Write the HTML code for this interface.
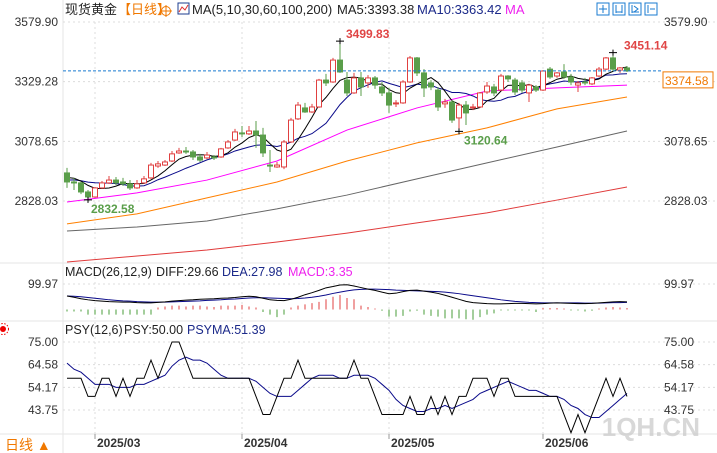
<!DOCTYPE html>
<html><head><meta charset="utf-8">
<style>
body{margin:0;background:#fff;width:717px;height:453px;overflow:hidden;font-family:"Liberation Sans","Noto Sans CJK SC",sans-serif;}
svg{position:absolute;left:0;top:0}
text{font-family:"Liberation Sans","Noto Sans CJK SC",sans-serif}
</style></head><body>
<svg id="chart" width="717" height="453" viewBox="0 0 717 453">
 <g stroke="#e6e6e6" fill="none">
  <line x1="63" y1="0" x2="63" y2="453"/>
  <line x1="0" y1="263" x2="717" y2="263"/>
  <line x1="0" y1="321" x2="717" y2="321"/>
  <line x1="0" y1="434" x2="717" y2="434"/>
 </g>
 <g id="grid" stroke="#dcdcdc" stroke-dasharray="2,3" fill="none"></g>
 <g id="main"></g>
 <g id="macd"></g>
 <g id="psy"></g>
 <g font-size="13">
  <text x="65" y="14" fill="#222">现货黄金</text>
  <text x="118" y="14" fill="#f07800">【日线】</text>
  <circle cx="166" cy="11" r="4.5" fill="none" stroke="#f07800"/>
  <line x1="160" y1="11" x2="172" y2="11" stroke="#f07800"/><line x1="166" y1="5" x2="166" y2="17" stroke="#f07800"/>
  <rect x="178" y="3" width="11" height="11" fill="#fff" stroke="#1c3d8f"/>
  <polyline points="179,12 182,7 185,10 188,5" fill="none" stroke="#e03030"/>
  <text x="192" y="14" fill="#222">MA(5,10,30,60,100,200)</text>
  <text x="337" y="14" fill="#222">MA5:3393.38</text>
  <text x="417" y="14" fill="#1c2a8a">MA10:3363.42</text>
  <text x="505" y="14" fill="#ee22ee">MA</text>
 </g>
 <g fill="#fff" stroke="#1a7bd0">
  <rect x="597" y="3" width="12" height="12"/>
  <rect x="613" y="3" width="12" height="12"/>
  <rect x="629" y="3" width="12" height="12"/>
  <rect x="645" y="3" width="12" height="12"/>
  <path d="M603 5v8M599 9h8M616 5v8M622 5v8M616 12h6M632 5v8M632 12h7M634 6l4 3-4 3M648 5v8M650 9h5" stroke="#1a7bd0"/>
 </g>
 <g font-size="12.5">
  <text x="65" y="276" fill="#222">MACD(26,12,9)</text>
  <text x="156" y="276" fill="#222">DIFF:29.66</text>
  <text x="222" y="276" fill="#1c2a8a">DEA:27.98</text>
  <text x="288" y="276" fill="#ee22ee">MACD:3.35</text>
 </g>
 <g font-size="12.5">
  <text x="65" y="334" fill="#222">PSY(12,6)</text>
  <text x="124" y="334" fill="#222">PSY:50.00</text>
  <text x="187" y="334" fill="#1c2a8a">PSYMA:51.39</text>
 </g>
 <g><circle cx="3" cy="329" r="3" fill="#e00"/><circle cx="3" cy="329" r="5.5" fill="none" stroke="#e00" stroke-dasharray="1.5,1.5"/></g>
 <g><text x="5" y="450" font-size="14" fill="#f07800">日线 ▲</text></g>
 <text x="700" y="436" font-size="26" fill="#c8c8c8" opacity="0.7" text-anchor="end" font-weight="bold">1QH.CN</text>
</svg>
<script>
// ---- data ----
const opens =  [2946,2908,2904,2866,2845,2883,2904,2916,2908,2900,2883,2904,2925,2975,2979,2996,3030,3038,3034,3013,3009,3013,3013,3051,3084,3114,3110,3122,3105,2979,2971,2971,3076,3173,3219,3202,3223,3336,3328,3420,3336,3282,3345,3324,3345,3307,3282,3236,3240,3328,3429,3366,3324,3294,3236,3244,3177,3231,3219,3223,3286,3307,3294,3353,3336,3324,3282,3307,3294,3382,3353,3370,3349,3315,3328,3320,3353,3382,3429,3378,3387];
const closes = [2908,2904,2866,2845,2883,2904,2916,2904,2900,2883,2900,2921,2979,2984,2992,3026,3038,3034,3013,3000,3021,3009,3047,3076,3118,3110,3122,3105,3030,2975,2979,3076,3168,3231,3202,3223,3336,3324,3420,3370,3282,3345,3307,3345,3315,3282,3231,3240,3328,3429,3366,3303,3307,3223,3244,3168,3231,3198,3223,3282,3311,3282,3353,3341,3286,3294,3315,3294,3374,3349,3366,3349,3328,3324,3324,3345,3382,3429,3382,3387,3374.58];
const highs =  [2967,2925,2908,2874,2887,2912,2933,2929,2925,2916,2916,2933,2988,2996,3000,3038,3051,3055,3042,3026,3034,3021,3051,3084,3131,3143,3143,3164,3135,3042,2992,3084,3177,3244,3240,3236,3341,3362,3429,3499.83,3370,3366,3370,3357,3353,3328,3303,3252,3336,3437,3433,3382,3336,3307,3257,3252,3240,3248,3236,3286,3328,3320,3362,3357,3345,3336,3320,3315,3378,3391,3370,3403,3362,3332,3345,3349,3391,3433,3451.14,3391,3395];
const lows =   [2883,2874,2857,2832.58,2841,2879,2900,2895,2891,2874,2879,2900,2921,2967,2975,2992,3026,3026,3000,2992,3004,3000,3009,3047,3080,3097,3105,3051,3013,2950,2967,2962,3072,3168,3198,3198,3219,3311,3324,3366,3269,3278,3269,3303,3299,3269,3198,3223,3236,3324,3353,3265,3294,3206,3219,3156,3120.64,3147,3210,3219,3278,3269,3290,3328,3273,3282,3244,3286,3290,3341,3345,3341,3315,3286,3315,3315,3349,3378,3374,3366,3370];
const priorCloses = [2895,2900,2905,2910,2915,2920,2925,2935,2945];
const ma30Pts = [2824,2862,2916,2996,3126,3219,3290,3303,3315];
const ma60Pts = [2732,2774,2841,2908,2996,3072,3135,3215,3265];
const ma100Pts = [2702,2719,2744,2795,2853,2921,2988,3055,3122];
const ma200Pts = [2572,2597,2622,2656,2693,2736,2778,2832,2887];
const priceTicks = ["3579.90","3329.28","3078.65","2828.03"];
const diff = [53,48,42,38,35,33,31,30,29,29,27,26,26,28,30,33,35,37,38,40,41,42,44,45,47,50,52,50,44,38,36,35,40,48,58,66,75,85,90,96,97,92,86,80,75,68,62,64,70,75,76,72,68,63,56,48,40,32,27,25,23,22,22,23,24,24,23,22,23,25,26,25,24,23,23,24,26,28,30,31,30];
const dea = [53,52,50,47,44,41,38,36,34,33,31,30,29,29,29,30,31,32,33,34,36,37,38,40,41,43,45,46,46,45,44,43,42,43,45,48,52,57,63,68,73,77,79,80,80,79,78,76,75,74,73,72,71,70,68,65,62,58,54,50,46,42,38,35,32,30,28,27,26,26,26,26,26,26,25,25,25,26,27,27,28];
const hist = [-8,-8,-8,-20,-20,-20,-20,-20,-20,-20,-20,-20,-20,8,12,15,15,12,15,15,12,10,15,15,15,18,12,8,-10,-20,-30,-20,8,15,20,25,30,40,50,57,45,40,15,10,4,-5,-28,-28,-25,-8,-5,-20,-25,-28,-35,-35,-35,-38,-40,-30,-20,-15,-4,-4,-4,-4,-4,-10,6,6,6,4,-4,-4,-8,-5,4,8,10,8,6];
const psy = [58.33,58.33,58.33,50,50,58.33,58.33,50,58.33,50,58.33,58.33,66.67,58.33,66.67,75,75,66.67,58.33,58.33,58.33,58.33,58.33,58.33,58.33,58.33,58.33,50,41.67,41.67,50,58.33,58.33,66.67,58.33,58.33,58.33,58.33,58.33,58.33,58.33,66.67,58.33,58.33,50,41.67,41.67,41.67,41.67,50,41.67,41.67,50,41.67,50,41.67,50,50,58.33,58.33,58.33,50,58.33,58.33,50,50,50,50,50,50,50,41.67,33.33,41.67,33.33,41.67,50,58.33,50,58.33,50];
const psyPrior = [75,66.67,66.67,66.67,58.33];
const psyTicks = ["75.00","64.58","54.17","43.75"];
const dateLabels = ["2025/03","2025/04","2025/05","2025/06"];
const dateBars = [4,25,46,68];

// ---- axes ----
const NS="http://www.w3.org/2000/svg";
const xAt = i => 67 + i*7;
const yP = p => 22 + (3579.9 - p)*179/751.87;
const yM = v => 309.5 - v*0.255;
const yS = v => 342 + (75 - v)*2.176;
function mk(tag, attrs, parent){const e=document.createElementNS(NS,tag);for(const k in attrs)e.setAttribute(k,attrs[k]);parent.appendChild(e);return e;}
const grid=document.getElementById('grid'),main=document.getElementById('main'),mac=document.getElementById('macd'),ps=document.getElementById('psy'),svg=document.getElementById('chart');

priceTicks.forEach((t,k)=>{const y=yP(parseFloat(t));
 let g=mk('line',{x1:63,x2:717,y1:y,y2:y},grid);
 
 
 let a=mk('text',{x:58,y:y+4,'font-size':12,fill:'#333','text-anchor':'end'},svg);a.textContent=t;
 
 
 if(k!==1){
 let b=mk('text',{x:664,y:y+4,'font-size':12,fill:'#333'},svg);b.textContent=t;
 
 
 }
});
[99.97].forEach(v=>{const y=yM(v);mk('line',{x1:63,x2:717,y1:y,y2:y},grid);
 let a=mk('text',{x:58,y:y+4,'font-size':12,fill:'#333','text-anchor':'end'},svg);a.textContent=v.toFixed(2);
 
 
 let b=mk('text',{x:664,y:y+4,'font-size':12,fill:'#333'},svg);b.textContent=v.toFixed(2);
 
 
});
psyTicks.forEach(t=>{const y=yS(parseFloat(t));mk('line',{x1:63,x2:717,y1:y,y2:y},grid);
 let a=mk('text',{x:58,y:y+4,'font-size':12,fill:'#333','text-anchor':'end'},svg);a.textContent=t;
 
 
 let b=mk('text',{x:664,y:y+4,'font-size':12,fill:'#333'},svg);b.textContent=t;
 
 
});
dateBars.forEach((bi,k)=>{const x=xAt(bi);
 let g=mk('line',{x1:x,x2:x,y1:22,y2:434},grid);
 
 
 mk('line',{x1:x,x2:x,y1:434,y2:439,stroke:'#999'},svg);
 let t=mk('text',{x:x+2,y:447,'font-size':12,'font-weight':'bold',fill:'#333'},svg);t.textContent=dateLabels[k];
 
 
});

function maLine(arr,color,name){const pts=arr.map((v,k)=>xAt(k*10)+','+yP(v)).join(' ');
 const l=mk('polyline',{points:pts,fill:'none',stroke:color,'stroke-width':1},main);
 
 }
maLine(ma200Pts,'#e03a3a','ma200-line');
maLine(ma100Pts,'#666','ma100-line');
maLine(ma60Pts,'#ff8000','ma60-line');
maLine(ma30Pts,'#ff00ff','ma30-line');
const all=priorCloses.concat(closes);
function ma(n){return closes.map((c,i)=>{let s=0;for(let k=0;k<n;k++)s+=all[i+9-k];return s/n;});}
[[ma(10),'#0a0a8a','ma10-line'],[ma(5),'#000','ma5-line']].forEach(([arr,col,name])=>{
 const l=mk('polyline',{points:arr.map((v,i)=>xAt(i)+','+yP(v)).join(' '),fill:'none',stroke:col},main);
 
 });

closes.forEach((c,i)=>{const o=opens[i],up=c>=o,col=up?'#e04040':'#5a9e4a',x=xAt(i);
 const g=mk('g',{},main);
 
 
 const top=yP(Math.max(o,c)),bot=yP(Math.min(o,c));
 mk('line',{x1:x,x2:x,y1:yP(highs[i]),y2:top,stroke:col},g);
 mk('line',{x1:x,x2:x,y1:bot,y2:yP(lows[i]),stroke:col},g);
 mk('rect',{x:x-2.5,y:top,width:5,height:Math.max(1,bot-top),fill:up?'#fff':col,stroke:col},g);
});
const lp=closes[closes.length-1],ly=yP(lp);
const dl=mk('line',{x1:63,x2:663,y1:ly,y2:ly,stroke:'#1a7bd0','stroke-dasharray':'3,2'},main);


const lb=mk('rect',{x:663,y:ly+1,width:50,height:16,fill:'#fff',stroke:'#f07800'},main);


const lt=mk('text',{x:665,y:ly+14,'font-size':12,fill:'#f07800'},main);lt.textContent=lp.toFixed(2);


function mark(i,v,label,dx,dy,col){const x=xAt(i),y=yP(v);
 mk('path',{d:`M${x-4} ${y}h8M${x} ${y-3}v6`,stroke:'#000'},main);
 const t=mk('text',{x:x+dx,y:y+dy,'font-size':12,'font-weight':'bold',fill:col},main);t.textContent=label;
 
 }
mark(39,highs[39],'3499.83',6,-3,'#e04545');
mark(78,highs[78],'3451.14',11,-3,'#e04545');
mark(3,lows[3],'2832.58',3,13,'#5a9e4a');
mark(56,lows[56],'3120.64',5,13,'#5a9e4a');

hist.forEach((h,i)=>{const x=xAt(i);const l=mk('line',{x1:x,x2:x,y1:yM(0),y2:yM(h),stroke:h>=0?'#e04040':'#4a9e3a'},mac);
 
 });
[[dea,'#0a0a8a','dea-line'],[diff,'#000','diff-line']].forEach(([a,c,n])=>{
 const l=mk('polyline',{points:a.map((v,i)=>xAt(i)+','+yM(v)).join(' '),fill:'none',stroke:c},mac);
 
 });

const pall=psyPrior.concat(psy);
const psyma=psy.map((v,i)=>{let s=0;for(let k=0;k<6;k++)s+=pall[i+5-k];return s/6;});
[[psyma,'#0a0a8a','psyma-line'],[psy,'#000','psy-line']].forEach(([a,c,n])=>{
 const l=mk('polyline',{points:a.map((v,i)=>xAt(i)+','+yS(v)).join(' '),fill:'none',stroke:c},ps);
 
 });
</script>
</body></html>
